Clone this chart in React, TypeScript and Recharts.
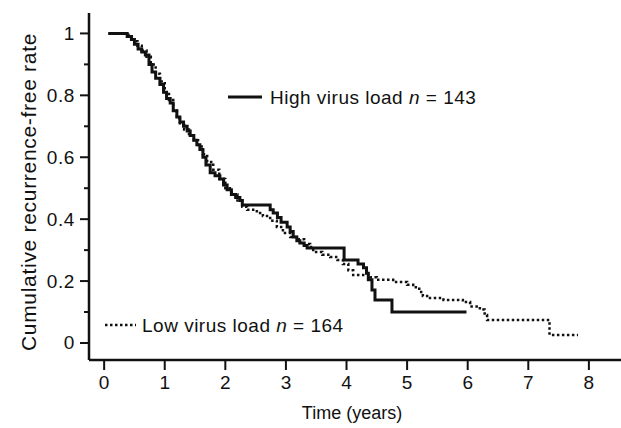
import React from "react";
import { LineChart, Line, XAxis, YAxis, Customized } from "recharts";

// High virus load (solid) Kaplan-Meier estimate: time (years), survival
const HIGH_T = [0.07, 0.38, 0.45, 0.5, 0.56, 0.62, 0.68, 0.74, 0.79, 0.85, 0.92, 0.98, 1.03, 1.09, 1.14, 1.2, 1.25, 1.31, 1.37, 1.42, 1.48, 1.53, 1.58, 1.63, 1.68, 1.75, 1.83, 1.91, 1.97, 2.03, 2.1, 2.17, 2.24, 2.28, 2.74, 2.79, 2.86, 2.92, 3.02, 3.07, 3.12, 3.18, 3.23, 3.3, 3.35, 3.96, 4.19, 4.28, 4.33, 4.36, 4.42, 4.47, 4.75, 5.98];
const HIGH_S = [1.0, 0.99, 0.98, 0.965, 0.95, 0.94, 0.93, 0.9, 0.875, 0.855, 0.835, 0.81, 0.79, 0.775, 0.75, 0.73, 0.714, 0.7, 0.685, 0.67, 0.655, 0.64, 0.625, 0.6, 0.575, 0.55, 0.54, 0.53, 0.51, 0.495, 0.48, 0.47, 0.46, 0.446, 0.43, 0.42, 0.405, 0.39, 0.375, 0.36, 0.342, 0.33, 0.323, 0.315, 0.307, 0.268, 0.255, 0.243, 0.225, 0.204, 0.171, 0.139, 0.1, 0.1];

// Low virus load (dotted)
const LOW_T = [0.07, 0.4, 0.48, 0.55, 0.62, 0.7, 0.77, 0.85, 0.92, 1.0, 1.07, 1.14, 1.2, 1.25, 1.32, 1.4, 1.48, 1.55, 1.63, 1.7, 1.8, 1.9, 2.0, 2.1, 2.2, 2.28, 2.36, 2.52, 2.62, 2.74, 2.85, 2.95, 3.07, 3.2, 3.3, 3.4, 3.45, 3.6, 3.73, 3.85, 3.94, 4.03, 4.11, 4.39, 4.5, 4.77, 5.0, 5.1, 5.2, 5.26, 5.33, 5.6, 5.92, 6.04, 6.2, 6.28, 6.32, 7.35, 7.82];
const LOW_S = [1.0, 0.99, 0.975, 0.96, 0.945, 0.925, 0.9, 0.87, 0.845, 0.81, 0.785, 0.75, 0.725, 0.705, 0.69, 0.67, 0.655, 0.635, 0.61, 0.585, 0.56, 0.53, 0.5, 0.48, 0.46, 0.44, 0.43, 0.42, 0.41, 0.395, 0.375, 0.355, 0.342, 0.335, 0.32, 0.31, 0.294, 0.285, 0.278, 0.268, 0.255, 0.235, 0.22, 0.212, 0.204, 0.197, 0.188, 0.18, 0.165, 0.152, 0.145, 0.139, 0.132, 0.118, 0.108, 0.09, 0.074, 0.026, 0.026];

const X_TICKS = [0, 1, 2, 3, 4, 5, 6, 7, 8];
const Y_TICKS = [0, 0.1, 0.2, 0.3, 0.4, 0.5, 0.6, 0.7, 0.8, 0.9, 1];
const Y_LABELS: Record<string, string> = { "0": "0", "0.2": "0.2", "0.4": "0.4", "0.6": "0.6", "0.8": "0.8", "1": "1" };

const HIGH_LABEL = "High virus load ";
const LOW_LABEL = "Low virus load ";
const HIGH_N = " = 143";
const LOW_N = " = 164";
const X_TITLE = "Time (years)";
const Y_TITLE = "Cumulative recurrence-free rate";

const highData = HIGH_T.map((t, i) => ({ t, v: HIGH_S[i] }));
const lowData = LOW_T.map((t, i) => ({ t, v: LOW_S[i] }));

const W = 621;
const H = 428;
const Y_W = 89;
const X_H = 68;
const TOP = 13;
const AXIS_X = Y_W;
const AXIS_Y = H - X_H;
const FONT = "'Liberation Sans', Arial, Helvetica, sans-serif";
const INK = "#111";

const YTick = (props: any) => {
  const { y, payload } = props;
  const key = String(Math.round(payload.value * 10) / 10);
  const major = key in Y_LABELS;
  return (
    <g>
      <line x1={AXIS_X - (major ? 9 : 5)} x2={AXIS_X} y1={y} y2={y} stroke={INK} strokeWidth={2} />
      {major && (
        <text x={AXIS_X - 14} y={y} textAnchor="end" dominantBaseline="central" fontSize={19} letterSpacing={0.6} fontFamily={FONT} fill={INK}>
          {Y_LABELS[key]}
        </text>
      )}
    </g>
  );
};

const XTick = (props: any) => {
  const { x, payload } = props;
  return (
    <g>
      <line x1={x} x2={x} y1={AXIS_Y} y2={AXIS_Y + 10} stroke={INK} strokeWidth={2} />
      <text x={x} y={AXIS_Y + 22} textAnchor="middle" dominantBaseline="central" fontSize={19} fontFamily={FONT} fill={INK}>
        {payload.value}
      </text>
    </g>
  );
};

const Annotations = () => (
  <g fontFamily={FONT} fill={INK}>
    <line x1={228} x2={262} y1={97} y2={97} stroke={INK} strokeWidth={3} />
    <text x={270} y={97} dominantBaseline="central" fontSize={19} letterSpacing={0.5}>
      {HIGH_LABEL}
      <tspan fontStyle="italic">n</tspan>
      {HIGH_N}
    </text>
    <line x1={105} x2={136} y1={325} y2={325} stroke={INK} strokeWidth={2.5} strokeDasharray="2.5 2.5" />
    <text x={142} y={325} dominantBaseline="central" fontSize={19} letterSpacing={0.5}>
      {LOW_LABEL}
      <tspan fontStyle="italic">n</tspan>
      {LOW_N}
    </text>
    <text x={352} y={413} textAnchor="middle" dominantBaseline="central" fontSize={18}>
      {X_TITLE}
    </text>
    <text x={28} y={192} textAnchor="middle" dominantBaseline="central" fontSize={21} letterSpacing={0.7} transform="rotate(-90 28 192)">
      {Y_TITLE}
    </text>
  </g>
);

export default function App() {
  return (
    <div style={{ position: "absolute", left: 0, top: 0, width: W, height: H, background: "#fff" }}>
      <LineChart width={W} height={H} margin={{ top: TOP, right: 0, bottom: 0, left: 0 }}>
        <XAxis
          type="number"
          dataKey="t"
          domain={[-0.25, 8.53]}
          ticks={X_TICKS}
          height={X_H}
          allowDataOverflow
          axisLine={{ stroke: INK, strokeWidth: 2.5 }}
          tickLine={false}
          tick={<XTick />}
          interval={0}
        />
        <YAxis
          type="number"
          domain={[-0.055, 1.066]}
          ticks={Y_TICKS}
          width={Y_W}
          allowDataOverflow
          axisLine={{ stroke: INK, strokeWidth: 2.5 }}
          tickLine={false}
          tick={<YTick />}
          interval={0}
        />
        <Line
          data={lowData}
          dataKey="v"
          type="stepAfter"
          stroke={INK}
          strokeWidth={2.5}
          strokeDasharray="2.5 2.5"
          dot={false}
          activeDot={false}
          isAnimationActive={false}
        />
        <Line
          data={highData}
          dataKey="v"
          type="stepAfter"
          stroke={INK}
          strokeWidth={3}
          dot={false}
          activeDot={false}
          isAnimationActive={false}
        />
        <Customized component={Annotations} />
      </LineChart>
    </div>
  );
}
